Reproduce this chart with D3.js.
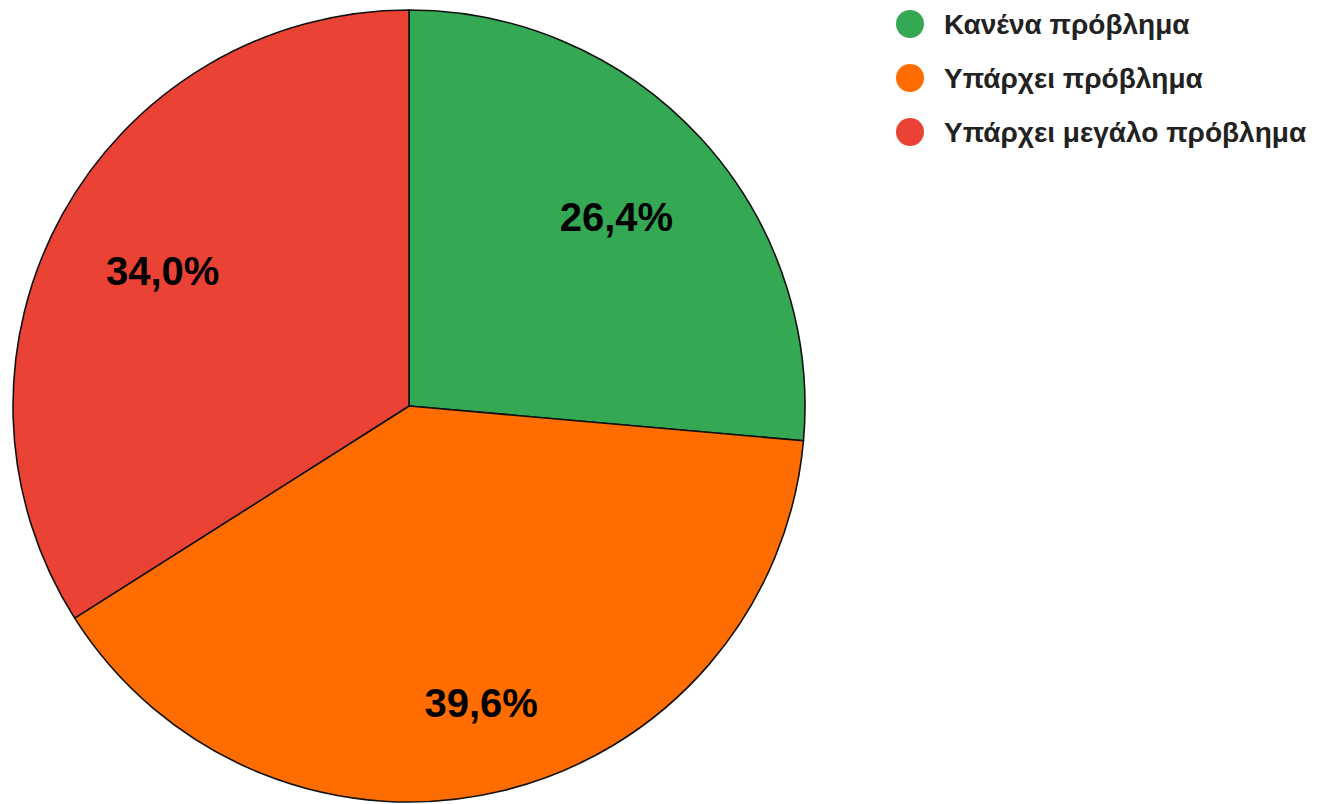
<!DOCTYPE html>
<html>
<head>
<meta charset="utf-8">
<script src="https://cdn.jsdelivr.net/npm/d3@7"></script>
<style>
  body { margin: 0; background: #fff; }
  svg { display: block; }
</style>
</head>
<body>
<svg id="chart"></svg>
<script>
// data
const categories = ["Κανένα πρόβλημα", "Υπάρχει πρόβλημα", "Υπάρχει μεγάλο πρόβλημα"];
const values = [26.4, 39.6, 34.0];
const colors = ["#34a853", "#ff6d01", "#ea4335"];

const width = 1318, height = 804;
const cx = 409, cy = 406, radius = 396;
// label distance from centre, as a share of the radius, per slice
const labelRadii = [0.71, 0.77, 0.71];

const svg = d3.select("#chart")
    .attr("width", width)
    .attr("height", height);

const pie = d3.pie().sort(null).value(d => d);
const arcs = pie(values);

const arc = d3.arc().innerRadius(0).outerRadius(radius);

const g = svg.append("g").attr("transform", "translate(" + cx + "," + cy + ")");

g.selectAll("path.slice")
  .data(arcs)
  .enter().append("path")
    .attr("class", "slice")
    .attr("d", arc)
    .attr("fill", (d, i) => colors[i])
    .attr("stroke", "#111")
    .attr("stroke-width", 1.6)
    .attr("stroke-linejoin", "round");

const fmt = v => v.toFixed(1).replace(".", ",") + "%";

g.selectAll("text.pct")
  .data(arcs)
  .enter().append("text")
    .attr("class", "pct")
    .attr("transform", (d, i) => {
      const r = radius * labelRadii[i];
      const a = (d.startAngle + d.endAngle) / 2;
      return "translate(" + (Math.sin(a) * r) + "," + (-Math.cos(a) * r) + ")";
    })
    .attr("text-anchor", "middle")
    .attr("dy", "0.36em")
    .style("font-family", "Arial, 'Liberation Sans', sans-serif")
    .style("font-weight", "bold")
    .style("font-size", "40px")
    .attr("fill", "#000")
    .text(d => fmt(d.data));

// legend
const legend = svg.append("g").attr("transform", "translate(910,24)");
const item = legend.selectAll("g.item")
  .data(categories)
  .enter().append("g")
    .attr("class", "item")
    .attr("transform", (d, i) => "translate(0," + (i * 54) + ")");

item.append("circle")
  .attr("r", 14)
  .attr("fill", (d, i) => colors[i]);

item.append("text")
  .attr("x", 34)
  .attr("dy", "0.35em")
  .style("font-family", "Arial, 'Liberation Sans', sans-serif")
  .style("font-weight", "bold")
  .style("font-size", "28px")
  .attr("fill", "#222")
  .text(d => d);
</script>
</body>
</html>
